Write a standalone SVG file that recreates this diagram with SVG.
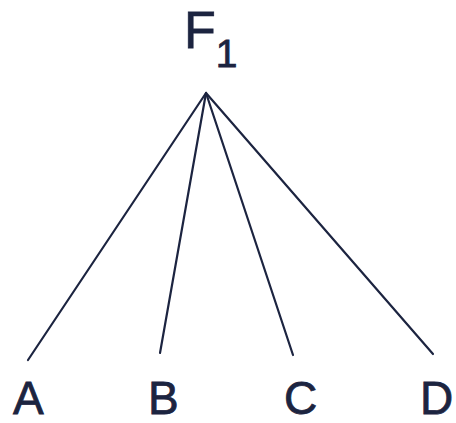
<svg xmlns="http://www.w3.org/2000/svg" width="456" height="423" viewBox="0 0 456 423">
<style>
.l{stroke:#1c2440;stroke-width:2.2;fill:none;stroke-linecap:round}
.t{font-family:"Liberation Sans",Arial,sans-serif;fill:#1c2440;stroke:#1c2440;stroke-width:0.8}
</style>
<rect width="456" height="423" fill="#ffffff"/>
<g id="F1"><text class="t" x="184" y="48" font-size="52">F<tspan dy="19" font-size="39">1</tspan></text></g>
<g id="A"><text class="t" x="13" y="414" font-size="46">A</text></g>
<g id="B"><text class="t" x="148" y="414" font-size="46">B</text></g>
<g id="C"><text class="t" x="284" y="414" font-size="46">C</text></g>
<g id="D"><text class="t" x="420" y="414" font-size="46">D</text></g>
<g id="connectors">
<line class="l" x1="206" y1="93" x2="28" y2="360"/>
<line class="l" x1="206" y1="93" x2="160" y2="353"/>
<line class="l" x1="206" y1="93" x2="293" y2="355"/>
<line class="l" x1="206" y1="93" x2="433" y2="354"/>
</g>
</svg>
